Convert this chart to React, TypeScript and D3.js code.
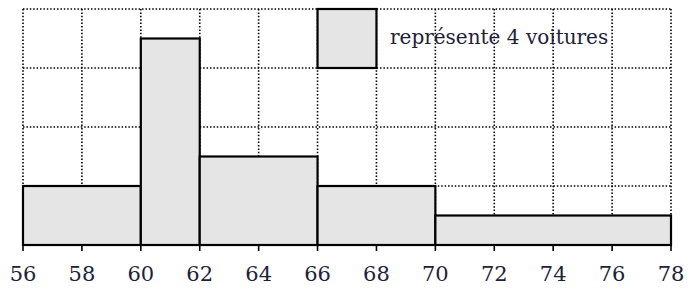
import React from "react";
import * as d3 from "d3";

// Class bounds (speed classes) and number of cars per class
const classStarts = [56, 60, 62, 66, 70];
const classEnds = [60, 62, 66, 70, 78];
const counts = [8, 14, 12, 8, 8];
const tickValues = [56, 58, 60, 62, 64, 66, 68, 70, 72, 74, 76, 78];
const gridLevels = [1, 2, 3, 4];
const legendLabel = "représente 4 voitures";
const carsPerSquare = 4;
const squareWidth = 2;

export default function App() {
  const W = 691, H = 288;
  const x = d3.scaleLinear().domain([56, 78]).range([23, 671]);
  const y = d3.scaleLinear().domain([0, 4]).range([245, 9]);
  const heights = counts.map((c, i) => c / carsPerSquare / ((classEnds[i] - classStarts[i]) / squareWidth));
  const dotted = { stroke: "#000", strokeWidth: 1.6, strokeDasharray: "1.5 1.9" };
  const textColor = "#1e2238";
  const font = "DejaVu Serif, serif";
  return (
    <svg width={W} height={H} style={{ position: "absolute", left: 0, top: 0, background: "#fff" }}>
      {/* grid */}
      {tickValues.map((t) => (
        <line key={"v" + t} x1={x(t)} x2={x(t)} y1={y(4)} y2={y(0)} {...dotted} />
      ))}
      {gridLevels.map((g) => (
        <line key={"h" + g} x1={x(56)} x2={x(78)} y1={y(g)} y2={y(g)} {...dotted} />
      ))}
      {/* bars */}
      {classStarts.map((s, i) => (
        <rect key={"b" + i} x={x(s)} y={y(heights[i])} width={x(classEnds[i]) - x(s)}
          height={y(0) - y(heights[i])} fill="#e5e5e5" stroke="#000" strokeWidth={2.2} />
      ))}
      {/* legend square */}
      <rect x={x(66)} y={y(4)} width={x(68) - x(66)} height={y(3) - y(4)} fill="#e5e5e5" stroke="#000" strokeWidth={2.2} />
      <text x={390} y={44} style={{ fontFamily: font, fontSize: 20 }} fill={textColor}>{legendLabel}</text>
      {/* axis */}
      <line x1={x(56)} x2={x(78)} y1={y(0)} y2={y(0)} stroke="#000" strokeWidth={2.2} />
      {tickValues.map((t) => (
        <g key={"t" + t}>
          <line x1={x(t)} x2={x(t)} y1={y(0)} y2={y(0) + 6} stroke="#000" strokeWidth={1.6} />
          <text x={x(t)} y={281} style={{ fontFamily: font, fontSize: 21 }} textAnchor="middle" fill={textColor}>{t}</text>
        </g>
      ))}
    </svg>
  );
}
